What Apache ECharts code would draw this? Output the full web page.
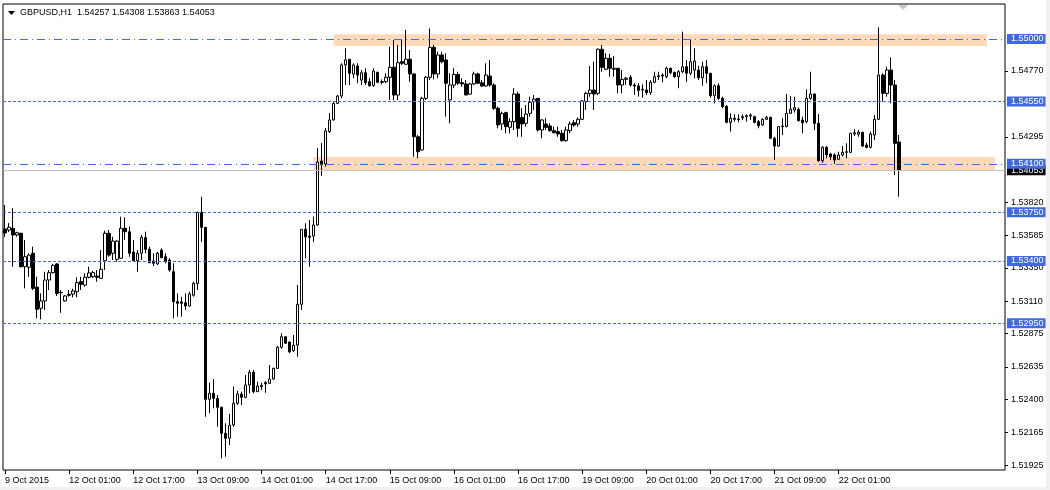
<!DOCTYPE html>
<html>
<head>
<meta charset="utf-8">
<script src="https://cdn.jsdelivr.net/npm/echarts@6/dist/echarts.min.js"></script>
<style>
html,body{margin:0;padding:0;background:#fff;}
#chart{width:1050px;height:490px;}
</style>
</head>
<body>
<div id="chart"></div>
<script>
// ---- DATA ----
const symbolTitle = 'GBPUSD,H1  1.54257 1.54308 1.53863 1.54053';
// hourly bars starting 9 Oct 2015 09:00 (weekend hours skipped)
const firstBarTime = Date.UTC(2015, 9, 9, 9);
const totalSlots = 250; // bars + empty right margin (chart shift)
// [open, close, low, high]
const ohlc = [
[1.53630,1.53601,1.53572,1.53803],[1.53623,1.53642,1.53608,1.53673],[1.53635,1.53587,1.53358,1.53779],[1.53587,1.53603,1.53574,1.53610],
[1.53599,1.53358,1.53354,1.53603],[1.53358,1.53430,1.53202,1.53551],[1.53354,1.53442,1.53286,1.53455],[1.53455,1.53202,1.53190,1.53502],
[1.53210,1.53051,1.52986,1.53286],[1.53058,1.53111,1.52979,1.53166],[1.53111,1.53262,1.53046,1.53322],[1.53262,1.53315,1.53190,1.53334],
[1.53315,1.53368,1.53310,1.53378],[1.53378,1.53166,1.53147,1.53383],[1.53173,1.53171,1.53026,1.53190],[1.53111,1.53147,1.53106,1.53154],
[1.53159,1.53152,1.53142,1.53190],[1.53161,1.53183,1.53137,1.53199],[1.53178,1.53243,1.53137,1.53282],[1.53250,1.53231,1.53190,1.53286],
[1.53226,1.53282,1.53214,1.53310],[1.53282,1.53313,1.53274,1.53358],[1.53286,1.53315,1.53277,1.53327],[1.53291,1.53282,1.53250,1.53334],
[1.53274,1.53339,1.53274,1.53478],[1.53401,1.53599,1.53334,1.53618],[1.53599,1.53442,1.53430,1.53623],[1.53455,1.53543,1.53406,1.53574],
[1.53411,1.53543,1.53394,1.53551],[1.53419,1.53635,1.53419,1.53719],[1.53635,1.53610,1.53551,1.53714],[1.53610,1.53455,1.53430,1.53647],
[1.53464,1.53401,1.53394,1.53551],[1.53401,1.53455,1.53322,1.53478],[1.53455,1.53570,1.53406,1.53587],[1.53567,1.53484,1.53455,1.53610],
[1.53484,1.53387,1.53383,1.53502],[1.53399,1.53383,1.53363,1.53455],[1.53378,1.53455,1.53370,1.53466],[1.53478,1.53423,1.53419,1.53491],
[1.53430,1.53394,1.53383,1.53455],[1.53406,1.53334,1.53322,1.53419],[1.53322,1.53106,1.52986,1.53383],[1.53106,1.53094,1.52998,1.53166],
[1.53104,1.53094,1.52998,1.53142],[1.53098,1.53075,1.53046,1.53166],[1.53075,1.53161,1.53070,1.53178],[1.53152,1.53238,1.53142,1.53250],
[1.53238,1.53750,1.53190,1.53755],[1.53750,1.53642,1.53538,1.53863],[1.53642,1.52402,1.52276,1.53644],[1.52402,1.52445,1.52301,1.52522],
[1.52445,1.52409,1.52337,1.52548],[1.52409,1.52344,1.52204,1.52433],[1.52344,1.52157,1.51976,1.52349],[1.52157,1.52121,1.51988,1.52229],
[1.52121,1.52214,1.52072,1.52296],[1.52217,1.52373,1.52204,1.52493],[1.52373,1.52440,1.52361,1.52464],[1.52440,1.52416,1.52361,1.52457],
[1.52416,1.52505,1.52409,1.52577],[1.52505,1.52597,1.52445,1.52613],[1.52597,1.52457,1.52445,1.52613],[1.52457,1.52498,1.52457,1.52529],
[1.52493,1.52503,1.52469,1.52522],[1.52522,1.52512,1.52449,1.52534],[1.52517,1.52548,1.52512,1.52649],[1.52548,1.52625,1.52541,1.52630],
[1.52625,1.52777,1.52620,1.52786],[1.52777,1.52853,1.52767,1.52878],[1.52853,1.52806,1.52801,1.52853],[1.52815,1.52745,1.52734,1.52817],
[1.52752,1.52793,1.52745,1.52866],[1.52793,1.53087,1.52709,1.53226],[1.53087,1.53628,1.53046,1.53628],[1.53628,1.53574,1.53419,1.53671],
[1.53579,1.53570,1.53358,1.53695],[1.53579,1.53659,1.53538,1.53719],[1.53659,1.54113,1.53655,1.54214],[1.54120,1.54095,1.54012,1.54250],
[1.54099,1.54337,1.54079,1.54358],[1.54332,1.54416,1.54322,1.54466],[1.54416,1.54536,1.54412,1.54546],[1.54536,1.54589,1.54531,1.54596],
[1.54589,1.54813,1.54572,1.54825],[1.54813,1.54849,1.54668,1.54933],[1.54854,1.54753,1.54668,1.54854],[1.54748,1.54813,1.54717,1.54825],
[1.54805,1.54740,1.54681,1.54825],[1.54704,1.54757,1.54668,1.54776],[1.54757,1.54685,1.54668,1.54789],[1.54692,1.54663,1.54656,1.54717],
[1.54663,1.54769,1.54656,1.54789],[1.54760,1.54688,1.54681,1.54764],[1.54692,1.54688,1.54673,1.54709],[1.54692,1.54724,1.54681,1.54753],
[1.54724,1.54796,1.54560,1.54944],[1.54796,1.54596,1.54560,1.54993],[1.54596,1.54829,1.54560,1.54957],[1.54836,1.54825,1.54813,1.54993],
[1.54818,1.54854,1.54813,1.55065],[1.54854,1.54748,1.54692,1.54921],[1.54748,1.54295,1.54151,1.54753],[1.54295,1.54187,1.54140,1.54308],
[1.54200,1.54572,1.54195,1.54584],[1.54572,1.54724,1.54560,1.54733],[1.54724,1.54940,1.54704,1.55077],[1.54940,1.54748,1.54709,1.54957],
[1.54748,1.54885,1.54717,1.54908],[1.54885,1.54836,1.54825,1.54908],[1.54849,1.54681,1.54440,1.54897],[1.54560,1.54668,1.54392,1.54753],
[1.54668,1.54745,1.54645,1.54789],[1.54745,1.54681,1.54668,1.54764],[1.54685,1.54676,1.54656,1.54717],[1.54676,1.54596,1.54596,1.54704],
[1.54603,1.54676,1.54596,1.54683],[1.54676,1.54748,1.54668,1.54764],[1.54748,1.54681,1.54676,1.54757],[1.54685,1.54661,1.54656,1.54704],
[1.54661,1.54740,1.54656,1.54825],[1.54733,1.54668,1.54656,1.54849],[1.54668,1.54500,1.54488,1.54681],[1.54500,1.54380,1.54356,1.54512],
[1.54387,1.54464,1.54344,1.54476],[1.54469,1.54368,1.54320,1.54476],[1.54363,1.54404,1.54320,1.54428],[1.54404,1.54603,1.54344,1.54645],
[1.54603,1.54356,1.54295,1.54620],[1.54435,1.54387,1.54295,1.54500],[1.54392,1.54459,1.54368,1.54524],[1.54464,1.54544,1.54440,1.54584],
[1.54548,1.54567,1.54488,1.54596],[1.54572,1.54344,1.54332,1.54572],[1.54344,1.54416,1.54284,1.54421],[1.54387,1.54363,1.54344,1.54428],
[1.54373,1.54339,1.54332,1.54392],[1.54339,1.54324,1.54320,1.54368],[1.54332,1.54315,1.54295,1.54368],[1.54320,1.54267,1.54259,1.54344],
[1.54267,1.54344,1.54259,1.54368],[1.54339,1.54387,1.54320,1.54404],[1.54396,1.54380,1.54368,1.54416],[1.54387,1.54421,1.54368,1.54435],
[1.54421,1.54553,1.54416,1.54560],[1.54548,1.54608,1.54488,1.54620],[1.54608,1.54632,1.54584,1.54805],[1.54632,1.54603,1.54488,1.54836],
[1.54608,1.54926,1.54596,1.54933],[1.54926,1.54796,1.54764,1.54957],[1.54782,1.54861,1.54776,1.54897],[1.54861,1.54789,1.54728,1.54892],
[1.54782,1.54789,1.54728,1.54877],[1.54789,1.54668,1.54608,1.54789],[1.54668,1.54709,1.54608,1.54776],[1.54709,1.54717,1.54668,1.54728],
[1.54724,1.54668,1.54656,1.54740],[1.54668,1.54661,1.54596,1.54681],[1.54661,1.54630,1.54584,1.54681],[1.54637,1.54632,1.54577,1.54673],
[1.54632,1.54613,1.54596,1.54704],[1.54613,1.54688,1.54596,1.54704],[1.54688,1.54728,1.54681,1.54764],[1.54728,1.54735,1.54704,1.54764],
[1.54733,1.54740,1.54688,1.54753],[1.54728,1.54789,1.54717,1.54800],[1.54789,1.54757,1.54745,1.54793],[1.54760,1.54728,1.54721,1.54764],
[1.54728,1.54764,1.54645,1.54776],[1.54764,1.54800,1.54753,1.55053],[1.54800,1.54753,1.54692,1.54849],[1.54753,1.54836,1.54740,1.54993],
[1.54776,1.54841,1.54717,1.54933],[1.54776,1.54721,1.54704,1.54807],[1.54721,1.54800,1.54663,1.54836],[1.54800,1.54753,1.54681,1.54849],
[1.54753,1.54591,1.54577,1.54753],[1.54591,1.54663,1.54536,1.54673],[1.54663,1.54572,1.54560,1.54681],[1.54572,1.54512,1.54500,1.54584],
[1.54515,1.54399,1.54392,1.54524],[1.54399,1.54428,1.54332,1.54464],[1.54428,1.54421,1.54404,1.54457],[1.54423,1.54418,1.54399,1.54457],
[1.54432,1.54440,1.54416,1.54457],[1.54440,1.54447,1.54404,1.54457],[1.54445,1.54452,1.54416,1.54464],[1.54440,1.54399,1.54392,1.54447],
[1.54404,1.54375,1.54356,1.54416],[1.54380,1.54421,1.54375,1.54428],[1.54421,1.54435,1.54416,1.54445],[1.54435,1.54284,1.54281,1.54440],
[1.54284,1.54228,1.54127,1.54295],[1.54228,1.54368,1.54223,1.54373],[1.54368,1.54373,1.54308,1.54428],[1.54368,1.54464,1.54363,1.54603],
[1.54464,1.54493,1.54459,1.54589],[1.54488,1.54505,1.54469,1.54584],[1.54493,1.54411,1.54404,1.54507],[1.54416,1.54396,1.54320,1.54440],
[1.54404,1.54572,1.54392,1.54637],[1.54572,1.54603,1.54560,1.54764],[1.54603,1.54392,1.54344,1.54608],[1.54392,1.54122,1.54115,1.54459],
[1.54122,1.54219,1.54108,1.54228],[1.54219,1.54164,1.54140,1.54228],[1.54171,1.54151,1.54127,1.54180],[1.54164,1.54127,1.54099,1.54176],
[1.54133,1.54164,1.54127,1.54187],[1.54164,1.54183,1.54151,1.54228],[1.54183,1.54187,1.54140,1.54248],[1.54183,1.54320,1.54176,1.54324],
[1.54315,1.54324,1.54301,1.54349],[1.54313,1.54327,1.54295,1.54344],[1.54327,1.54228,1.54223,1.54332],[1.54236,1.54219,1.54212,1.54252],
[1.54219,1.54315,1.54212,1.54332],[1.54308,1.54421,1.54272,1.54452],[1.54421,1.54740,1.54416,1.55084],[1.54740,1.54608,1.54548,1.54753],
[1.54608,1.54776,1.54584,1.54800],[1.54776,1.54668,1.54536,1.54868],[1.54668,1.54248,1.54019,1.54704],[1.54257,1.54053,1.53863,1.54308]
];
// x-axis tick labels (bar index -> text)
const xTickIndex = [0,16,32,48,64,80,96,112,128,144,160,176,192,208];
const xTickText = ['9 Oct 2015','12 Oct 01:00','12 Oct 17:00','13 Oct 09:00','14 Oct 01:00','14 Oct 17:00','15 Oct 09:00',
  '16 Oct 01:00','16 Oct 17:00','19 Oct 09:00','20 Oct 01:00','20 Oct 17:00','21 Oct 09:00','22 Oct 01:00'];
// price-scale tick labels
const yTickValues = [1.54770,1.54295,1.53820,1.53585,1.53350,1.53110,1.52875,1.52635,1.52400,1.52165,1.51925];
// horizontal level lines
const levelDashDot = [1.55000, 1.54100];
const levelDashed = [1.54550, 1.53750, 1.53400, 1.52950];
const bidPrice = 1.54053;
// highlighted zones: [fromBar, toBar, top, bottom]
const zones = [[82, 245, 1.55035, 1.54950], [77, 246.5, 1.54150, 1.54050]];
const priceMin = 1.518921, priceMax = 1.552524;

// ---- BUILD ----
const MON = ['Jan','Feb','Mar','Apr','May','Jun','Jul','Aug','Sep','Oct','Nov','Dec'];
const categories = [];
let t = firstBarTime;
while (categories.length < totalSlots) {
  const d = new Date(t);
  const wd = d.getUTCDay();
  if (wd !== 0 && wd !== 6) {
    categories.push(d.getUTCDate() + ' ' + MON[d.getUTCMonth()] + ' ' + String(d.getUTCHours()).padStart(2,'0') + ':00');
  }
  t += 3600000;
}
const tickMap = {};
xTickIndex.forEach((k, j) => tickMap[k] = xTickText[j]);

const BLUE = '#4169E1';
const FONT = 'Liberation Sans';
const lvlLabel = (bg) => ({
  show: true, position: 'end', distance: 2,
  formatter: p => Number(p.value).toFixed(5),
  color: '#fff', backgroundColor: bg, fontFamily: FONT, fontSize: 9,
  padding: [1, 2, 0, 4], lineHeight: 9
});
const blueLines = [];
levelDashed.forEach(v => blueLines.push({ yAxis: v, lineStyle: { color: BLUE, type: [3, 2], width: 1, opacity: 1 }, label: lvlLabel(BLUE) }));
levelDashDot.forEach(v => blueLines.push({ yAxis: v, lineStyle: { color: BLUE, type: [8, 4, 1, 4], width: 1, opacity: 1 }, label: lvlLabel(BLUE) }));

const chart = echarts.init(document.getElementById('chart'), null, { renderer: 'canvas' });
chart.setOption({
  animation: false,
  backgroundColor: '#fff',
  grid: { left: 3, right: 45, top: 4, bottom: 20, show: true, borderColor: '#000', borderWidth: 1, backgroundColor: '#fff' },
  xAxis: {
    type: 'category', data: categories, boundaryGap: true,
    axisLine: { show: false },
    axisTick: { show: true, alignWithLabel: true, length: 4, interval: (i) => tickMap[i] !== undefined, lineStyle: { color: '#000' } },
    axisLabel: { interval: (i) => tickMap[i] !== undefined, formatter: (v, i) => tickMap[i] || '', align: 'left',
      color: '#000', fontFamily: FONT, fontSize: 9, margin: 6 },
    splitLine: { show: false }
  },
  yAxis: {
    type: 'value', position: 'right', min: priceMin, max: priceMax,
    axisLine: { show: false },
    axisTick: { show: true, length: 3, customValues: yTickValues, lineStyle: { color: '#000' } },
    axisLabel: { customValues: yTickValues, formatter: v => v.toFixed(5), color: '#000', fontFamily: FONT, fontSize: 9, margin: 6 },
    splitLine: { show: false }
  },
  series: [
    {
      type: 'line', data: [], z: 1, color: '#c0c0c0', silent: true,
      markArea: {
        silent: true,
        itemStyle: { color: '#FFDAB9', opacity: 1 },
        data: zones.map(z => [{ xAxis: z[0], yAxis: z[2] }, { xAxis: z[1], yAxis: z[3] }])
      },
      markLine: {
        silent: true, symbol: ['none', 'none'], precision: 5,
        lineStyle: { color: '#c0c0c0', type: 'solid', width: 1 },
        data: [{ yAxis: bidPrice, label: lvlLabel('#000') }]
      }
    },
    {
      type: 'candlestick',
      data: ohlc,
      z: 3,
      barWidth: 3,
      clip: true,
      itemStyle: { color: '#fff', color0: '#000', borderColor: '#000', borderColor0: '#000', borderWidth: 1 }
    },
    {
      type: 'line', data: [], z: 6, color: BLUE, silent: true,
      markLine: {
        silent: true, symbol: ['none', 'none'], precision: 5,
        lineStyle: { color: BLUE, width: 1, opacity: 1 },
        data: blueLines
      }
    }
  ],
  graphic: [
    { type: 'polygon', shape: { points: [[8, 11], [15, 11], [11.5, 15]] }, style: { fill: '#000' } },
    { type: 'text', left: 20, top: 8, style: { text: symbolTitle, fill: '#000', font: '9px "Liberation Sans"' } },
    { type: 'polygon', shape: { points: [[898, 5], [908, 5], [903, 10]] }, style: { fill: '#c8c8c8' } },
    { type: 'rect', shape: { x: 1046, y: 0, width: 4, height: 490 }, style: { fill: '#f0f0f0' } },
    { type: 'rect', shape: { x: 0, y: 487, width: 1050, height: 3 }, style: { fill: '#f0f0f0' } }
  ]
});
</script>
</body>
</html>
